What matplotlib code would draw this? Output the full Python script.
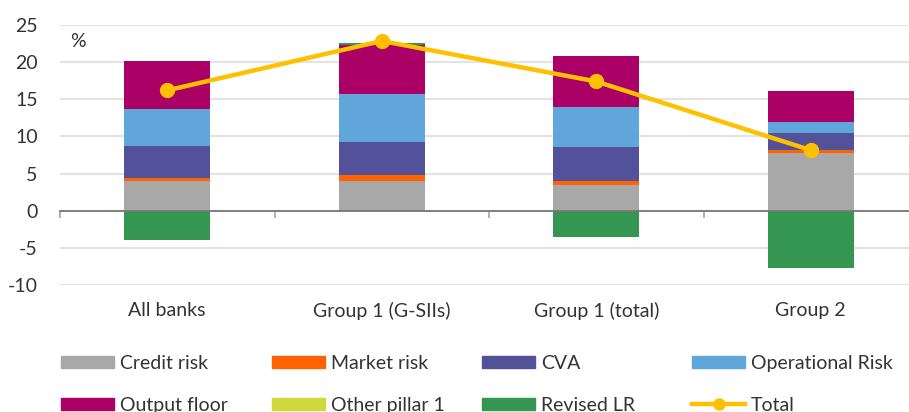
import numpy as np
import matplotlib.pyplot as plt
from matplotlib.lines import Line2D
from matplotlib.patches import Patch

# Values (percentage points)
categories = ["All banks", "Group 1 (G-SIIs)", "Group 1 (total)", "Group 2"]
credit_risk = [4.0, 4.0, 3.4, 7.75]
market_risk = [0.4, 0.8, 0.6, 0.45]
cva = [4.3, 4.5, 4.6, 2.3]
operational_risk = [5.0, 6.4, 5.4, 1.5]
output_floor = [6.5, 6.6, 6.8, 4.1]
other_pillar1 = [0.0, 0.0, 0.0, 0.0]
revised_lr = [-4.0, 0.25, -3.5, -7.65]
total = [16.2, 22.85, 17.4, 8.15]

colors = {
    "Credit risk": "#A8A8A8",
    "Market risk": "#FF6200",
    "CVA": "#525199",
    "Operational Risk": "#60A6DA",
    "Output floor": "#AB0066",
    "Other pillar 1": "#D0D93C",
    "Revised LR": "#349651",
    "Total": "#FFC000",
}


def main():
    plt.rcParams["font.family"] = ["Lato", "DejaVu Sans"]
    plt.rcParams["axes.unicode_minus"] = False
    fig = plt.figure(figsize=(9.09, 4.12), dpi=100)
    ax = fig.add_axes([60 / 909, 1 - 285 / 412, 858 / 909, 260 / 412])

    x = np.arange(len(categories))
    width = 0.4

    series = [
        ("Credit risk", credit_risk),
        ("Market risk", market_risk),
        ("CVA", cva),
        ("Operational Risk", operational_risk),
        ("Output floor", output_floor),
        ("Other pillar 1", other_pillar1),
        ("Revised LR", revised_lr),
    ]
    pos_base = np.zeros(len(categories))
    neg_base = np.zeros(len(categories))
    for name, vals in series:
        vals = np.array(vals, dtype=float)
        bottom = np.where(vals >= 0, pos_base, neg_base)
        ax.bar(x, vals, width, bottom=bottom, color=colors[name], zorder=3)
        pos_base = pos_base + np.clip(vals, 0, None)
        neg_base = neg_base + np.clip(vals, None, 0)

    ax.plot(x, total, color=colors["Total"], lw=3.2, marker="o", ms=10, zorder=5)

    ax.set_xlim(-0.5, 3.5)
    ax.set_ylim(-10, 25)
    ax.set_yticks(range(-10, 26, 5))
    ax.grid(axis="y", color="#E3E3E3", lw=1.5, zorder=0)
    ax.tick_params(axis="y", length=0, labelsize=14, colors="#333333", pad=16)

    for s in ["top", "right", "left"]:
        ax.spines[s].set_visible(False)
    ax.spines["bottom"].set_position(("data", 0))
    ax.spines["bottom"].set_color("#777777")
    ax.spines["bottom"].set_linewidth(1.3)
    ax.spines["bottom"].set_zorder(4)

    ax.set_xticks(x)
    ax.set_xticklabels(categories)
    ax.set_xticks(np.arange(-0.5, 3.0, 1.0), minor=True)
    ax.tick_params(axis="x", which="major", length=0, pad=66, labelsize=14,
                   colors="#333333")
    ax.tick_params(axis="x", which="minor", length=5, width=1.3,
                   color="#AAAAAA", direction="out")

    ax.text(0.012, 0.935, "%", transform=ax.transAxes, fontsize=14,
            color="#333333", va="center")

    # legend: four columns placed individually, two rows each
    handles = [Patch(color=colors[n]) for n, _ in series]
    handles.append(Line2D([], [], color=colors["Total"], lw=3.2, marker="o", ms=8))
    labels = [n for n, _ in series] + ["Total"]
    col_x = [57, 268, 478, 688]
    for c, cx in enumerate(col_x):
        idx = [c, c + 4]
        fig.legend([handles[i] for i in idx], [labels[i] for i in idx],
                   ncol=1, loc="upper left",
                   bbox_to_anchor=(cx / 909, 1 - 351 / 412),
                   frameon=False, fontsize=14, handlelength=2.75,
                   handleheight=0.55, handletextpad=0.3, labelspacing=1.27,
                   borderpad=0.2, borderaxespad=0, labelcolor="#333333")

    fig.savefig("out.png", dpi=100)
    plt.close(fig)


if __name__ == "__main__":
    main()
